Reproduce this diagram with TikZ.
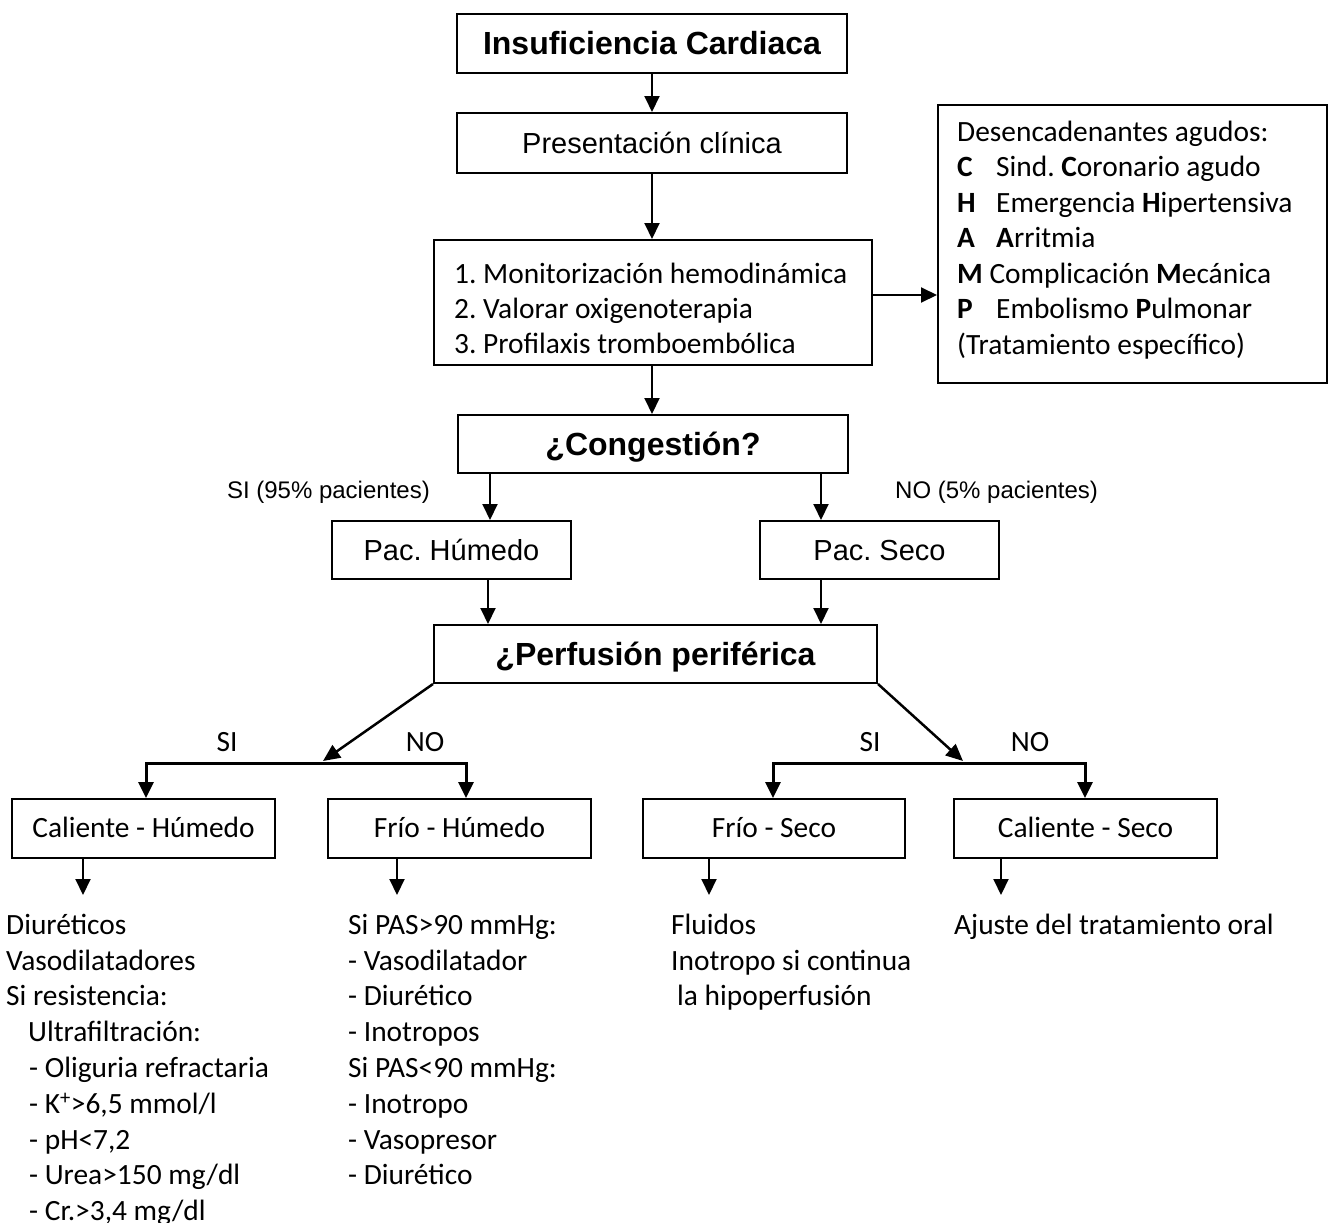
\documentclass[tikz,border=0pt]{standalone}
\usepackage{fontspec}
\setmainfont{Carlito}
\newfontfamily\arialf{Liberation Sans}
\usetikzlibrary{arrows.meta}
\frenchspacing

\begin{document}
\begin{tikzpicture}[x=1pt,y=-1pt,
  box/.style={draw, line width=2pt, inner sep=0pt},
  arr/.style={line width=2pt, -{Triangle[length=16pt,width=15pt]}},
  diag/.style={line width=2.5pt, -{Triangle[length=17pt,width=15pt]}},
  fork/.style={line width=3pt, {Triangle[length=16pt,width=15pt]}-{Triangle[length=16pt,width=15pt]}},
  headtxt/.style={font=\arialf\bfseries\fontsize{32}{38}\selectfont, text height=22.9pt, text depth=0pt},
  sanstxt/.style={font=\arialf\fontsize{29}{35}\selectfont, text height=20.8pt, text depth=0pt},
  bodytxt/.style={font=\fontsize{29.4}{35}\selectfont, text height=18.9pt, text depth=0pt},
  lbl/.style={font=\arialf\fontsize{24}{29}\selectfont, inner sep=0pt},
  yesno/.style={font=\fontsize{29.4}{35}\selectfont, inner sep=0pt, anchor=base},
  list/.style={align=left, inner sep=0pt, anchor=north west, font=\fontsize{29.4}{#1}\selectfont},
]
\useasboundingbox (0,0) rectangle (1333,1223);

% main column
\node[box, headtxt, minimum width=390pt, minimum height=59pt] (title) at (652,43.5) {Insuficiencia Cardiaca};
\node[box, sanstxt, minimum width=390pt, minimum height=60pt] (pres) at (652,143) {Presentación clínica};
\node[box, minimum width=438pt, minimum height=125pt] (steps) at (653,302.5) {};
\node[list=35] (stepstext) at (454,255) {\rule{0pt}{28pt}1. Monitorización hemodinámica\\2. Valorar oxigenoterapia\\3. Profilaxis tromboembólica};

% acute triggers
\node[box, minimum width=389pt, minimum height=278pt] (trig) at (1132.5,244) {};
\node[list=35.5] (trigtext) at (957,113) {\rule{0pt}{28pt}Desencadenantes agudos:\\
\makebox[39pt][l]{\bfseries C}Sind. {\bfseries C}oronario agudo\\
\makebox[39pt][l]{\bfseries H}Emergencia {\bfseries H}ipertensiva\\
\makebox[39pt][l]{\bfseries A}{\bfseries A}rritmia\\
{\bfseries M} Complicación {\bfseries M}ecánica\\
\makebox[39pt][l]{\bfseries P}Embolismo {\bfseries P}ulmonar\\
(Tratamiento específico)};

\node[box, headtxt, minimum width=390pt, minimum height=58pt] (congest) at (653,444) {¿Congestión?};
\node[box, sanstxt, minimum width=239pt, minimum height=58pt] (humedo) at (451.5,550) {Pac. Húmedo};
\node[box, sanstxt, minimum width=239pt, minimum height=58pt] (seco) at (879.5,550) {Pac. Seco};
\node[box, headtxt, minimum width=443pt, minimum height=58pt] (perf) at (655.5,654) {¿Perfusión periférica};

\node[lbl, anchor=base east] (siC) at (430,498) {SI (95\% pacientes)};
\node[lbl, anchor=base west] (noC) at (895,498) {NO (5\% pacientes)};

% profiles
\node[box, bodytxt, minimum width=263pt, minimum height=59pt] (ch) at (143.5,828.5) {Caliente - Húmedo};
\node[box, bodytxt, minimum width=263pt, minimum height=59pt] (fh) at (459.5,828.5) {Frío - Húmedo};
\node[box, bodytxt, minimum width=262pt, minimum height=59pt] (fs) at (774,828.5) {Frío - Seco};
\node[box, bodytxt, minimum width=263pt, minimum height=59pt] (cs) at (1085.5,828.5) {Caliente - Seco};

\node[yesno] (si1) at (227,751) {SI};
\node[yesno] (no1) at (425,751) {NO};
\node[yesno] (si2) at (870,751) {SI};
\node[yesno] (no2) at (1030,751) {NO};

% treatments
\node[list=35.8] (tch) at (6,906) {\rule{0pt}{28pt}Diuréticos\\Vasodilatadores\\Si resistencia:\\
\hspace*{22pt}Ultrafiltración:\\
\hspace*{23pt}- Oliguria refractaria\\
\hspace*{23pt}- K\textsuperscript{+}>6,5 mmol/l\\
\hspace*{23pt}- pH<7,2\\
\hspace*{23pt}- Urea>150 mg/dl\\
\hspace*{23pt}- Cr.>3,4 mg/dl};
\node[list=35.8] (tfh) at (348,906) {\rule{0pt}{28pt}Si PAS>90 mmHg:\\- Vasodilatador\\- Diurético\\- Inotropos\\Si PAS<90 mmHg:\\- Inotropo\\- Vasopresor\\- Diurético};
\node[list=35.8] (tfs) at (671,906) {\rule{0pt}{28pt}Fluidos\\Inotropo si continua\\\hspace*{6pt}la hipoperfusión};
\node[list=35.8] (tcs) at (954,906) {\rule{0pt}{28pt}Ajuste del tratamiento oral};

% connector reference points
\coordinate (ya) at (0,295);
\coordinate (xa) at (490,0);
\coordinate (xb) at (821,0);
\coordinate (xc) at (488,0);
\coordinate (tl) at (323,761);
\coordinate (tr) at (963,761);
\coordinate (fl1) at (146,763);
\coordinate (fl2) at (466,763);
\coordinate (fr1) at (773,763);
\coordinate (fr2) at (1085,763);
\coordinate (e1) at (83,895);
\coordinate (e2) at (397,895);
\coordinate (e3) at (709,895);
\coordinate (e4) at (1001,895);

% connectors
\draw[arr] (title) -- (pres);
\draw[arr] (pres.south) -- (pres.south |- steps.north);
\draw[arr] (steps.south -| pres.south) -- (congest.north -| pres.south);
\draw[arr] (steps.east |- ya) -- (trig.west |- ya);
\draw[arr] (congest.south -| xa) -- (humedo.north -| xa);
\draw[arr] (congest.south -| xb) -- (seco.north -| xb);
\draw[arr] (humedo.south -| xc) -- (perf.north -| xc);
\draw[arr] (seco.south -| xb) -- (perf.north -| xb);
\draw[diag] (perf.south west) -- (tl);
\draw[diag] (perf.south east) -- (tr);
\draw[fork] (ch.north -| fl1) -- (fl1) -- (fl2) -- (fh.north -| fl2);
\draw[fork] (fs.north -| fr1) -- (fr1) -- (fr2) -- (cs.north -| fr2);
\draw[arr] (ch.south -| e1) -- (e1);
\draw[arr] (fh.south -| e2) -- (e2);
\draw[arr] (fs.south -| e3) -- (e3);
\draw[arr] (cs.south -| e4) -- (e4);
\end{tikzpicture}
\end{document}
